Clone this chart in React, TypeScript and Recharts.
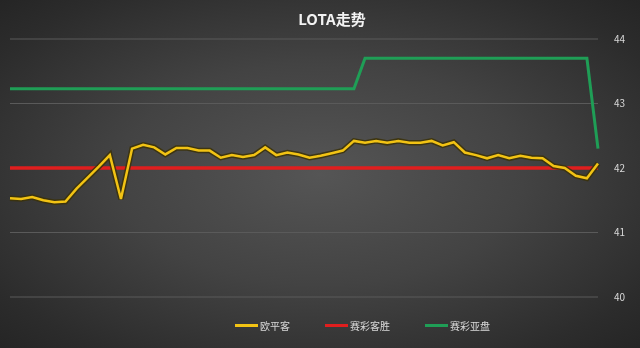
import { LineChart, Line, XAxis, YAxis, CartesianGrid } from "recharts";

// 欧平客
const ouPingKe = [
  41.53, 41.52, 41.55, 41.5, 41.47, 41.48, 41.68, 41.85, 42.02, 42.2,
  41.52, 42.3, 42.36, 42.32, 42.21, 42.31, 42.31, 42.27, 42.27, 42.16,
  42.2, 42.17, 42.2, 42.32, 42.2, 42.24, 42.21, 42.16, 42.19, 42.23,
  42.27, 42.42, 42.39, 42.42, 42.39, 42.42, 42.39, 42.39, 42.42, 42.35,
  42.4, 42.24, 42.2, 42.15, 42.2, 42.15, 42.19, 42.16, 42.15, 42.03,
  42.0, 41.88, 41.84, 42.07,
];

// 赛彩客胜
const keSheng = [
  42, 42, 42, 42, 42, 42, 42, 42, 42, 42,
  42, 42, 42, 42, 42, 42, 42, 42, 42, 42,
  42, 42, 42, 42, 42, 42, 42, 42, 42, 42,
  42, 42, 42, 42, 42, 42, 42, 42, 42, 42,
  42, 42, 42, 42, 42, 42, 42, 42, 42, 42,
  42, 42, 42, 42,
];

// 赛彩亚盘
const yaPan = [
  43.23, 43.23, 43.23, 43.23, 43.23, 43.23, 43.23, 43.23, 43.23, 43.23,
  43.23, 43.23, 43.23, 43.23, 43.23, 43.23, 43.23, 43.23, 43.23, 43.23,
  43.23, 43.23, 43.23, 43.23, 43.23, 43.23, 43.23, 43.23, 43.23, 43.23,
  43.23, 43.23, 43.7, 43.7, 43.7, 43.7, 43.7, 43.7, 43.7, 43.7,
  43.7, 43.7, 43.7, 43.7, 43.7, 43.7, 43.7, 43.7, 43.7, 43.7,
  43.7, 43.7, 43.7, 42.3,
];

const periods = ouPingKe.map((_, i) => `${i + 1}`);
const yTicks = [40, 41, 42, 43, 44];

const data = periods.map((p, i) => ({
  p,
  ou: ouPingKe[i],
  ke: keSheng[i],
  ya: yaPan[i],
}));

const legendItems = [
  { name: "欧平客", color: "#f2c314" },
  { name: "赛彩客胜", color: "#e01e1e" },
  { name: "赛彩亚盘", color: "#1f9e56" },
];

const font = "'Microsoft YaHei', 'Noto Sans CJK SC', sans-serif";

export default function App() {
  return (
    <div
      style={{
        position: "fixed",
        left: 0,
        top: 0,
        width: 640,
        height: 348,
        background:
          "radial-gradient(ellipse at 50% 50%, #555555 0%, #434343 45%, #2c2c2c 85%, #252525 100%)",
        fontFamily: font,
        overflow: "hidden",
      }}
    >
      <div
        style={{
          position: "absolute",
          top: 8,
          left: 0,
          width: 664,
          textAlign: "center",
          color: "#f2f2f2",
          fontSize: 15,
          fontWeight: 700,
        }}
      >
        LOTA走势
      </div>

      <LineChart
        width={640}
        height={348}
        data={data}
        margin={{ top: 39, right: 12, bottom: 51, left: 10 }}
      >
        <CartesianGrid vertical={false} stroke="#5a5a5a" strokeWidth={1} />
        <XAxis dataKey="p" hide />
        <YAxis
          orientation="right"
          domain={[40, 44]}
          ticks={yTicks}
          width={30}
          axisLine={false}
          tickLine={false}
          tickMargin={10}
          tick={{ fill: "#d9d9d9", fontSize: 10, fontFamily: font }}
        />
        <Line
          dataKey="ya"
          stroke="#1f9e56"
          strokeWidth={3}
          dot={false}
          type="linear"
          isAnimationActive={false}
        />
        <Line
          dataKey="ke"
          stroke="#e01e1e"
          strokeWidth={3.5}
          dot={false}
          type="linear"
          isAnimationActive={false}
        />
        <Line
          dataKey="ou"
          stroke="#3b3108"
          strokeOpacity={0.85}
          strokeWidth={5.5}
          dot={false}
          type="linear"
          legendType="none"
          isAnimationActive={false}
        />
        <Line
          dataKey="ou"
          stroke="#f2c314"
          strokeWidth={2.5}
          dot={false}
          type="linear"
          isAnimationActive={false}
        />
      </LineChart>

      <div
        style={{
          position: "absolute",
          top: 318,
          left: 235,
          display: "flex",
          alignItems: "center",
          fontSize: 10,
          color: "#d9d9d9",
        }}
      >
        {legendItems.map((it, i) => (
          <div
            key={it.name}
            style={{ display: "flex", alignItems: "center", marginRight: i === 0 ? 35 : 35 }}
          >
            <span
              style={{
                display: "inline-block",
                width: 23,
                height: 3,
                background: it.color,
                marginRight: 2,
              }}
            />
            <span>{it.name}</span>
          </div>
        ))}
      </div>
    </div>
  );
}
